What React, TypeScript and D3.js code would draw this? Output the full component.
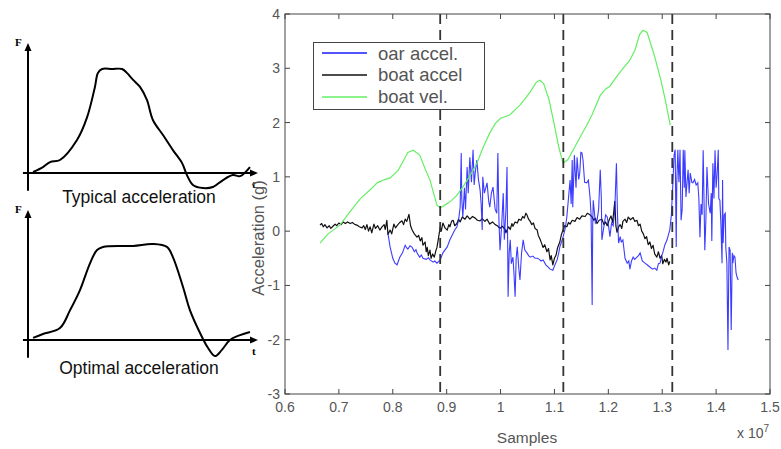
import React from "react";
import * as d3 from "d3";

// ---------- Data (x in units of 1e7 samples, y in g) ----------
const xTicks = [0.6, 0.7, 0.8, 0.9, 1.0, 1.1, 1.2, 1.3, 1.4, 1.5];
const xTickLabels = ["0.6", "0.7", "0.8", "0.9", "1", "1.1", "1.2", "1.3", "1.4", "1.5"];
const yTicks = [-3, -2, -1, 0, 1, 2, 3, 4];
const yTickLabels = ["-3", "-2", "-1", "0", "1", "2", "3", "4"];
const strokeMarkers = [0.888, 1.1165, 1.3187];

const legendItems = ["oar accel.", "boat accel", "boat vel."];
const seriesColors = ["#1a1aff", "#111111", "#66ee66"];

const boatVel: [number, number][] = [
  [0.665, -0.22], [0.68, -0.05], [0.702, 0.11], [0.72, 0.35], [0.74, 0.6], [0.76, 0.78],
  [0.771, 0.89], [0.785, 0.95], [0.795, 0.98], [0.81, 1.12], [0.82, 1.3], [0.828, 1.45],
  [0.838, 1.49], [0.85, 1.4], [0.86, 1.15], [0.869, 0.94], [0.882, 0.48], [0.888, 0.43],
  [0.895, 0.47], [0.906, 0.54], [0.918, 0.65], [0.93, 0.81], [0.945, 1.05], [0.956, 1.25],
  [0.968, 1.55], [0.98, 1.81], [0.99, 1.98], [1.0, 2.08], [1.017, 2.14], [1.036, 2.32],
  [1.055, 2.56], [1.066, 2.74], [1.073, 2.78], [1.08, 2.72], [1.09, 2.42], [1.1, 1.95],
  [1.108, 1.55], [1.116, 1.25], [1.125, 1.32], [1.135, 1.5], [1.147, 1.72], [1.16, 1.95],
  [1.17, 2.15], [1.185, 2.5], [1.195, 2.62], [1.203, 2.67], [1.212, 2.8], [1.225, 2.97],
  [1.24, 3.15], [1.25, 3.35], [1.258, 3.62], [1.264, 3.7], [1.272, 3.66], [1.285, 3.25],
  [1.297, 2.8], [1.305, 2.45], [1.315, 1.95],
];

const boatAccel: [number, number][] = [
  [0.665, 0.11], [0.668, 0.14], [0.671, 0.08], [0.674, 0.12], [0.678, 0.06], [0.682, 0.1],
  [0.685, 0.05], [0.689, 0.09], [0.693, 0.13], [0.696, 0.1], [0.7, 0.15], [0.704, 0.12],
  [0.708, 0.17], [0.712, 0.14], [0.716, 0.17], [0.721, 0.14], [0.725, 0.16], [0.73, 0.12],
  [0.734, 0.11], [0.738, 0.08], [0.743, 0.06], [0.746, 0.1], [0.749, 0.03], [0.752, 0.12],
  [0.755, 0.0], [0.758, 0.08], [0.761, -0.03], [0.765, 0.13], [0.768, 0.05], [0.772, 0.1],
  [0.776, 0.02], [0.78, 0.08], [0.784, 0.12], [0.786, 0.03], [0.789, 0.2], [0.791, -0.06],
  [0.795, 0.02], [0.798, -0.05], [0.802, 0.13], [0.805, 0.06], [0.808, 0.1], [0.812, 0.15],
  [0.817, 0.19], [0.82, 0.12], [0.823, 0.22], [0.826, 0.18], [0.83, 0.31], [0.833, 0.1],
  [0.836, 0.02], [0.84, -0.05], [0.845, -0.11], [0.848, -0.08], [0.851, -0.18], [0.854, -0.12],
  [0.856, -0.26], [0.86, -0.2], [0.862, -0.38], [0.864, -0.3], [0.866, -0.45], [0.869, -0.35],
  [0.871, -0.5], [0.874, -0.42], [0.877, -0.48], [0.88, -0.36], [0.882, -0.3], [0.885, -0.12],
  [0.888, 0.08], [0.89, 0.0], [0.893, 0.15], [0.897, 0.06], [0.901, 0.02], [0.904, 0.12],
  [0.906, 0.08], [0.909, 0.18], [0.912, 0.2], [0.915, 0.1], [0.919, 0.14], [0.922, 0.22],
  [0.925, 0.17], [0.929, 0.26], [0.934, 0.22], [0.938, 0.28], [0.943, 0.22], [0.948, 0.27],
  [0.953, 0.24], [0.957, 0.2], [0.962, 0.19], [0.966, 0.23], [0.971, 0.18], [0.975, 0.22],
  [0.98, 0.13], [0.985, 0.17], [0.99, 0.12], [0.994, 0.1], [0.999, 0.05], [1.003, 0.09],
  [1.008, 0.04], [1.01, -0.03], [1.012, 0.02], [1.015, 0.08], [1.018, 0.03], [1.021, 0.14],
  [1.023, 0.09], [1.027, 0.17], [1.031, 0.15], [1.034, 0.22], [1.038, 0.2], [1.041, 0.27],
  [1.044, 0.24], [1.047, 0.33], [1.049, 0.3], [1.052, 0.22], [1.055, 0.18], [1.058, 0.12],
  [1.061, 0.15], [1.064, 0.05], [1.068, 0.02], [1.07, -0.08], [1.073, -0.14], [1.076, -0.22],
  [1.079, -0.3], [1.082, -0.25], [1.086, -0.38], [1.089, -0.32], [1.092, -0.53], [1.094, -0.45],
  [1.097, -0.62], [1.1, -0.5], [1.103, -0.44], [1.106, -0.3], [1.11, -0.2], [1.113, -0.06],
  [1.116, 0.02], [1.119, 0.1], [1.123, 0.08], [1.126, 0.16], [1.129, 0.13], [1.133, 0.2],
  [1.138, 0.18], [1.142, 0.25], [1.147, 0.22], [1.151, 0.28], [1.157, 0.27], [1.161, 0.33],
  [1.166, 0.3], [1.17, 0.26], [1.173, 0.2], [1.176, 0.24], [1.179, 0.14], [1.183, 0.2],
  [1.188, 0.22], [1.192, 0.12], [1.195, 0.17], [1.198, 0.1], [1.202, 0.22], [1.205, 0.28],
  [1.208, 0.16], [1.212, 0.55], [1.214, 0.1], [1.216, -0.02], [1.219, 0.08], [1.222, 0.12],
  [1.225, 0.05], [1.227, 0.18], [1.231, 0.22], [1.234, 0.16], [1.237, 0.26], [1.241, 0.21],
  [1.246, 0.25], [1.249, 0.18], [1.253, 0.2], [1.256, 0.1], [1.259, 0.13], [1.262, 0.0],
  [1.265, -0.05], [1.268, -0.14], [1.271, -0.1], [1.274, -0.25], [1.277, -0.2], [1.28, -0.32],
  [1.283, -0.26], [1.286, -0.42], [1.29, -0.48], [1.293, -0.38], [1.296, -0.5], [1.299, -0.45],
  [1.301, -0.6], [1.304, -0.52], [1.307, -0.57], [1.309, -0.5], [1.312, -0.62], [1.314, -0.56],
];

const oarAccel: [number, number][] = [
  [0.791, -0.04], [0.795, -0.29], [0.8, -0.5], [0.804, -0.59], [0.808, -0.62], [0.813, -0.48],
  [0.818, -0.4], [0.823, -0.26], [0.826, -0.31], [0.828, -0.33], [0.832, -0.27], [0.836, -0.3],
  [0.84, -0.38], [0.843, -0.34], [0.845, -0.4], [0.85, -0.48], [0.853, -0.44], [0.856, -0.5],
  [0.862, -0.52], [0.866, -0.49], [0.869, -0.53], [0.875, -0.57], [0.878, -0.55], [0.882, -0.59],
  [0.888, -0.53], [0.893, -0.4], [0.901, -0.29], [0.906, -0.16], [0.912, -0.04],
  [0.915, 0.02], [0.919, 0.08], [0.922, 0.2], [0.925, 0.44], [0.927, 1.44], [0.928, 0.6],
  [0.93, 0.26], [0.933, 0.8], [0.935, 0.4], [0.938, 1.18], [0.94, 0.7], [0.943, 1.36],
  [0.946, 0.9], [0.949, 1.5], [0.951, 0.85], [0.953, 1.07], [0.956, 1.31], [0.959, 0.95],
  [0.962, 0.76], [0.964, 0.5], [0.966, 0.02], [0.967, 1.0], [0.97, 0.7], [0.975, 0.89],
  [0.978, 0.55], [0.98, 0.44], [0.983, 0.7], [0.986, 0.81], [0.99, 0.4], [0.993, 0.33],
  [0.995, 1.44], [0.997, 0.2], [0.999, -0.35], [1.002, 0.1], [1.005, 0.7], [1.007, -0.16],
  [1.01, 0.4], [1.012, 1.18], [1.014, -1.21], [1.016, -0.4], [1.018, -0.16], [1.02, -0.6],
  [1.023, -0.48], [1.025, -0.8], [1.027, -1.21], [1.029, -0.5], [1.031, -0.29], [1.034, -0.7],
  [1.036, -0.9], [1.039, -0.4], [1.042, -0.16], [1.045, -0.35], [1.049, -0.4], [1.052, -0.45],
  [1.055, -0.48], [1.06, -0.46], [1.064, -0.5], [1.068, -0.5], [1.072, -0.52], [1.075, -0.55],
  [1.079, -0.53], [1.084, -0.62], [1.088, -0.66], [1.092, -0.7], [1.097, -0.72], [1.101, -0.62],
  [1.105, -0.53], [1.108, -0.4], [1.11, -0.29], [1.113, -0.2], [1.116, -0.11], [1.12, 0.05],
  [1.123, 0.26], [1.126, 0.6], [1.129, 0.94], [1.131, 0.5], [1.133, 1.31], [1.134, 0.44],
  [1.137, 1.4], [1.14, 0.8], [1.142, 1.36], [1.145, 0.95], [1.147, 1.07], [1.149, 1.45],
  [1.151, 1.44], [1.153, 1.31], [1.156, 0.9], [1.16, 0.89], [1.163, 0.94], [1.166, 0.63],
  [1.168, 0.3], [1.17, -1.36], [1.171, 0.1], [1.172, 0.57], [1.176, 0.15], [1.179, 0.2],
  [1.182, 0.4], [1.185, 1.13], [1.187, 0.6], [1.188, -0.16], [1.192, 0.1], [1.195, 0.3],
  [1.198, 0.26], [1.201, 0.05], [1.203, -0.1], [1.206, 0.15], [1.209, 0.1], [1.212, 0.4],
  [1.215, 1.25], [1.217, 0.3], [1.219, -0.22], [1.222, -0.1], [1.224, -0.2], [1.227, -0.16],
  [1.231, -0.5], [1.235, -0.59], [1.238, -0.55], [1.24, -0.7], [1.243, -0.55], [1.246, -0.48],
  [1.249, -0.52], [1.253, -0.48], [1.256, -0.45], [1.259, -0.4], [1.263, -0.55], [1.268, -0.59],
  [1.272, -0.62], [1.277, -0.66], [1.282, -0.7], [1.286, -0.68], [1.29, -0.72], [1.293, -0.6],
  [1.296, -0.59], [1.299, -0.45], [1.301, -0.4], [1.305, -0.25], [1.309, -0.16], [1.312, -0.05],
  [1.314, 0.02], [1.317, 0.3], [1.32, 0.94], [1.322, 1.4], [1.324, 1.5], [1.326, -0.29],
  [1.327, 0.89], [1.329, 1.5], [1.331, 0.9], [1.333, 1.5], [1.335, 0.2], [1.337, 0.4],
  [1.339, 1.5], [1.341, 0.8], [1.342, 1.49], [1.344, 0.63], [1.346, 0.89], [1.348, 1.13],
  [1.35, 0.7], [1.352, 1.07], [1.355, 0.9], [1.357, 0.89], [1.36, 0.95], [1.363, 0.85],
  [1.366, 0.89], [1.368, 0.6], [1.37, -0.11], [1.372, 0.5], [1.374, 0.3], [1.376, 1.49],
  [1.378, 0.3], [1.379, -0.35], [1.381, 0.2], [1.383, 1.18], [1.386, 0.5], [1.389, 0.33],
  [1.391, 0.7], [1.392, -0.18], [1.394, 1.25], [1.396, 0.6], [1.398, 1.49], [1.4, 0.8],
  [1.402, 1.07], [1.404, 1.5], [1.405, 0.6], [1.407, 0.57], [1.409, 0.1], [1.411, -0.59],
  [1.412, 0.94], [1.413, -0.22], [1.415, 0.3], [1.417, 0.33], [1.418, -0.3], [1.42, -0.59],
  [1.422, -2.19], [1.424, -0.29], [1.426, -0.35], [1.428, -1.82], [1.43, -0.4], [1.431, -0.59],
  [1.433, -0.45], [1.435, -0.48], [1.437, -0.77], [1.439, -0.85], [1.441, -0.9],
];

// Left sketches: force F vs time t (arbitrary units)
const typicalForce: [number, number][] = [
  [0.22, 0.04], [0.65, 0.23], [0.96, 0.42], [1.39, 0.5], [2.13, 1.27], [2.57, 2.15],
  [2.91, 3.31], [3.04, 3.85], [3.22, 4.0], [3.65, 4.0], [4.09, 4.0], [4.3, 3.85],
  [4.57, 3.58], [4.87, 3.31], [5.17, 2.81], [5.43, 2.04], [5.87, 1.46], [6.3, 0.88],
  [6.7, 0.38], [6.91, -0.08], [7.17, -0.46], [7.61, -0.58], [8.04, -0.54], [8.48, -0.27],
  [8.91, -0.08], [9.22, -0.12], [9.65, 0.23],
];
const optimalForce: [number, number][] = [
  [0.22, 0.08], [0.65, 0.23], [1.39, 0.46], [1.83, 1.15], [2.26, 1.92], [2.7, 2.96],
  [3.0, 3.46], [3.26, 3.58], [4.57, 3.62], [5.43, 3.69], [6.04, 3.58], [6.3, 3.19],
  [6.74, 2.04], [7.04, 1.15], [7.48, 0.27], [7.83, -0.31], [8.13, -0.62], [8.43, -0.38],
  [8.78, 0.0], [9.22, 0.19], [9.65, 0.31],
];
const sketchTitles = ["Typical acceleration", "Optimal acceleration"];

// ---------- Layout ----------
const W = 781;
const H = 449;
const plot = { left: 285, right: 770, top: 14, bottom: 394 };
const axisColor = "#444";
const textColor = "#555";
const font = "'Liberation Sans', Arial, Helvetica, sans-serif";

function Sketch({ data, zeroY, title, titleY }: { data: [number, number][]; zeroY: number; title: string; titleY: number }) {
  const tx = d3.scaleLinear().domain([0, 10]).range([28, 258]);
  const fy = d3.scaleLinear().domain([0, 4]).range([zeroY, zeroY - 104]);
  const line = d3
    .line<[number, number]>()
    .x((d) => tx(d[0]))
    .y((d) => fy(d[1]))
    .curve(d3.curveCatmullRom.alpha(0.5));
  const ax = tx(0);
  const topY = fy(5);
  const botY = fy(-0.68);
  const right = tx(10);
  return (
    <g>
      <line x1={ax} y1={botY} x2={ax} y2={topY + 4} stroke="#000" strokeWidth={2} />
      <path d={`M${ax - 3.5},${topY + 8} L${ax},${topY} L${ax + 3.5},${topY + 8} Z`} fill="#000" />
      <line x1={tx(-0.22)} y1={zeroY} x2={right - 4} y2={zeroY} stroke="#000" strokeWidth={2} />
      <path d={`M${right - 8},${zeroY - 3.5} L${right},${zeroY} L${right - 8},${zeroY + 3.5} Z`} fill="#000" />
      <path d={line(data) || ""} fill="none" stroke="#000" strokeWidth={2} strokeLinejoin="round" />
      <text x={ax - 13} y={topY + 3} fontFamily="'Liberation Serif', 'Times New Roman', serif" fontWeight="bold" fontSize={11}>F</text>
      <text x={right - 6} y={zeroY + 15} fontFamily="'Liberation Serif', 'Times New Roman', serif" fontWeight="bold" fontSize={11}>t</text>
      <text x={139} y={titleY} textAnchor="middle" fontFamily={font} fontSize={17.5} fill="#111">{title}</text>
    </g>
  );
}

export default function App() {
  const x = d3.scaleLinear().domain([0.6, 1.5]).range([plot.left, plot.right]);
  const y = d3.scaleLinear().domain([-3, 4]).range([plot.bottom, plot.top]);
  const line = d3
    .line<[number, number]>()
    .x((d) => x(d[0]))
    .y((d) => y(d[1]));

  const tickLen = 5;

  return (
    <svg
      width={W}
      height={H}
      viewBox={`0 0 ${W} ${H}`}
      style={{ position: "absolute", left: 0, top: 0, background: "#fff" }}
    >
      <rect x={0} y={0} width={W} height={H} fill="#fff" />

      {/* Left sketches */}
      <Sketch data={typicalForce} zeroY={173} title={sketchTitles[0]} titleY={203} />
      <Sketch data={optimalForce} zeroY={340} title={sketchTitles[1]} titleY={374} />

      {/* Data lines */}
      <g>
        <path d={line(boatAccel) || ""} fill="none" stroke={seriesColors[1]} strokeWidth={1.2} strokeLinejoin="round" />
        <path d={line(oarAccel) || ""} fill="none" stroke={seriesColors[0]} strokeWidth={1.1} strokeOpacity={0.85} />
        <path d={line(boatVel) || ""} fill="none" stroke={seriesColors[2]} strokeWidth={1.2} />
      </g>

      {/* Stroke markers (dashed) */}
      {strokeMarkers.map((m, i) => (
        <line key={i} x1={x(m)} x2={x(m)} y1={plot.top} y2={plot.bottom} stroke="#333" strokeWidth={1.8} strokeDasharray="10,6" />
      ))}

      {/* Axes box */}
      <rect x={plot.left} y={plot.top} width={plot.right - plot.left} height={plot.bottom - plot.top} fill="none" stroke={axisColor} strokeWidth={1} />
      {xTicks.map((t, i) => (
        <g key={"xt" + i}>
          <line x1={x(t)} x2={x(t)} y1={plot.bottom} y2={plot.bottom - tickLen} stroke={axisColor} />
          <line x1={x(t)} x2={x(t)} y1={plot.top} y2={plot.top + tickLen} stroke={axisColor} />
          <text x={x(t)} y={412} textAnchor="middle" fontFamily={font} fontSize={14} fill={textColor}>{xTickLabels[i]}</text>
        </g>
      ))}
      {yTicks.map((t, i) => (
        <g key={"yt" + i}>
          <line x1={plot.left} x2={plot.left + tickLen} y1={y(t)} y2={y(t)} stroke={axisColor} />
          <line x1={plot.right} x2={plot.right - tickLen} y1={y(t)} y2={y(t)} stroke={axisColor} />
          <text x={280} y={y(t) + 5} textAnchor="end" fontFamily={font} fontSize={14} fill={textColor}>{yTickLabels[i]}</text>
        </g>
      ))}

      {/* Axis labels */}
      <text x={527} y={443} textAnchor="middle" fontFamily={font} fontSize={15.5} fill={textColor}>Samples</text>
      <text x={737} y={438} fontFamily={font} fontSize={14} fill={textColor}>
        x 10<tspan dy={-6} fontSize={10}>7</tspan>
      </text>
      <text
        transform={`translate(264, 238) rotate(-90)`}
        textAnchor="middle"
        fontFamily={font}
        fontSize={16.5}
        fill={textColor}
      >
        Acceleration (g)
      </text>

      {/* Legend */}
      <g>
        <rect x={313.5} y={42.5} width={171} height={67} fill="#fff" stroke={axisColor} strokeWidth={1} />
        {legendItems.map((name, i) => (
          <g key={name}>
            <line x1={322} x2={367} y1={53 + i * 22} y2={53 + i * 22} stroke={seriesColors[i]} strokeWidth={1.5} />
            <text x={378} y={59.5 + i * 21.7} fontFamily={font} fontSize={18.5} fill={textColor}>{name}</text>
          </g>
        ))}
      </g>
    </svg>
  );
}
